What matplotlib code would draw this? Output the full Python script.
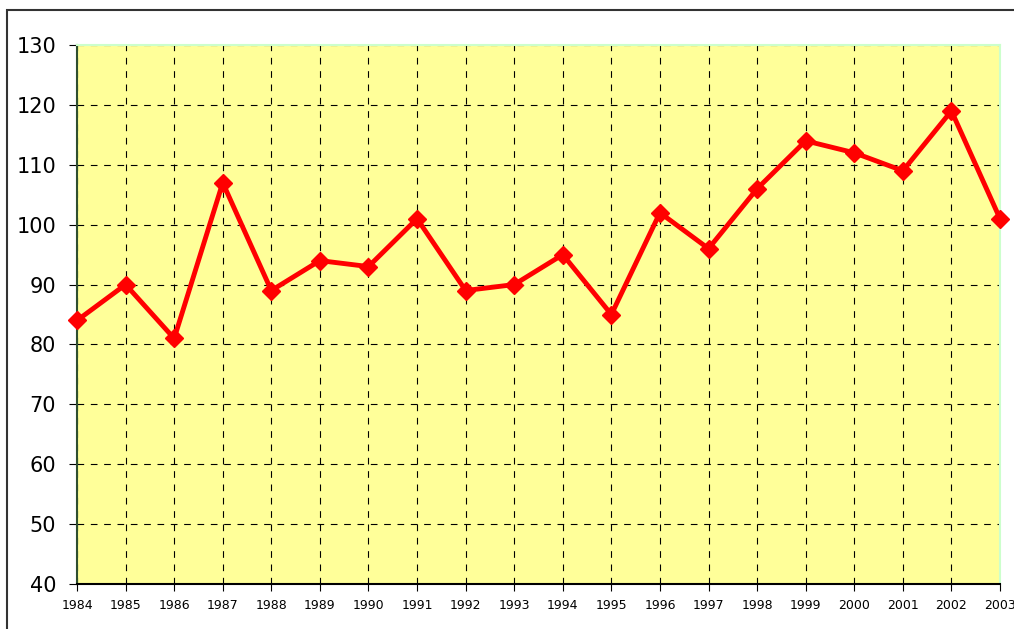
import matplotlib
matplotlib.use("Agg")
import matplotlib.pyplot as plt
from matplotlib.patches import Rectangle

# Data
years = list(range(1984, 2004))
values = [84, 90, 81, 107, 89, 94, 93, 101, 89, 90,
          95, 85, 102, 96, 106, 114, 112, 109, 119, 101]
y_ticks = [40, 50, 60, 70, 80, 90, 100, 110, 120, 130]

fig = plt.figure(figsize=(10.14, 6.29), dpi=100)
fig.patch.set_facecolor("white")

# outer chart frame (runs off the right and bottom edges)
fig.patches.append(
    Rectangle((7 / 1014, -0.1), 1.2, 1.1 - 10 / 629,
              transform=fig.transFigure, fill=False,
              edgecolor="#333333", linewidth=1.5, zorder=0)
)

ax = fig.add_axes([77 / 1014, 1 - 584 / 629, 923 / 1014, 539 / 629])
ax.set_facecolor("#FFFF99")

ax.plot(years, values, color="#FF0000", linewidth=3.5,
        marker="D", markersize=9, markerfacecolor="#FF0000",
        markeredgecolor="#FF0000", clip_on=False, zorder=5)

ax.set_xlim(years[0], years[-1])
ax.set_ylim(y_ticks[0], y_ticks[-1])
ax.set_xticks(years)
ax.set_yticks(y_ticks)
ax.tick_params(axis="y", labelsize=15, length=6, direction="out", pad=9)
ax.tick_params(axis="x", labelsize=9, length=5, direction="out", pad=6)

ax.grid(True, color="black", linestyle=(0, (6, 6)), linewidth=0.8)
ax.set_axisbelow(True)

ax.spines["left"].set_color("#2F4F2F")
ax.spines["bottom"].set_color("black")
ax.spines["top"].set_color("#CCFFCC")
ax.spines["right"].set_color("#CCFFCC")
for s in ax.spines.values():
    s.set_linewidth(1.5)

fig.savefig("out.png", dpi=100)
